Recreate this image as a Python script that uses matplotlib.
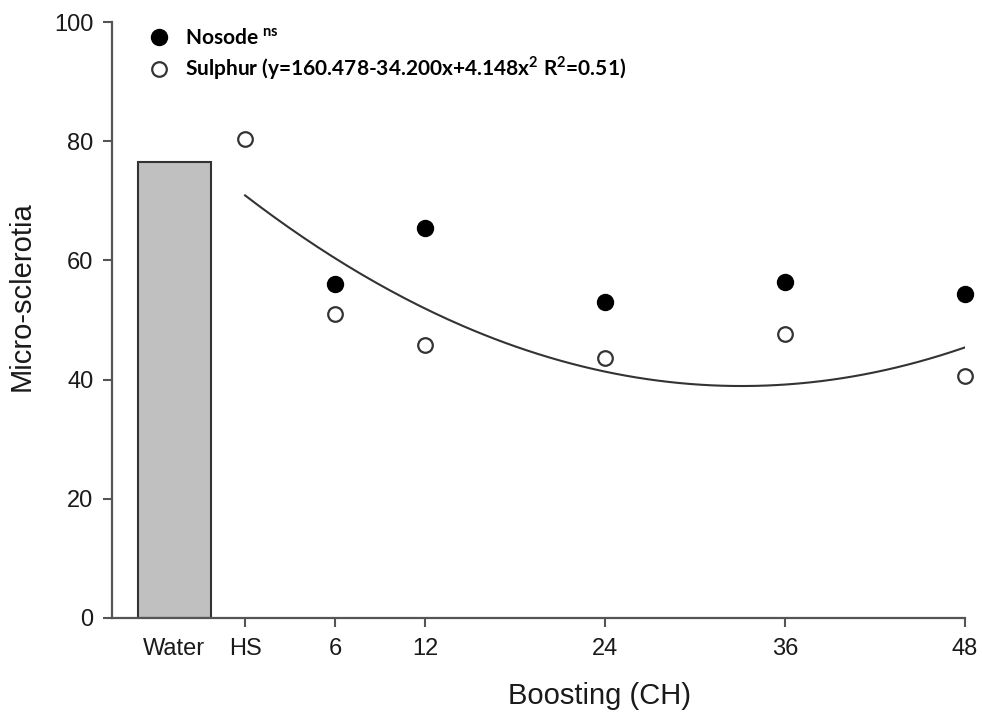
import numpy as np
import matplotlib
matplotlib.use("Agg")
import matplotlib.pyplot as plt
from matplotlib.lines import Line2D

# values
ch = [6, 12, 24, 36, 48]
nosode = [56.0, 65.5, 53.1, 56.3, 54.4]
sulphur_x = [0, 6, 12, 24, 36, 48]          # HS plotted at 0
sulphur = [80.4, 51.0, 45.8, 43.7, 47.6, 40.6]
water_x = -4.72
water = 76.5
tick_pos = [water_x, 0, 6, 12, 24, 36, 48]
tick_labels = ["Water", "HS", "6", "12", "24", "36", "48"]

plt.rcParams["font.family"] = ["Liberation Sans", "DejaVu Sans"]
plt.rcParams["mathtext.fontset"] = "custom"
plt.rcParams["mathtext.rm"] = "Lato:bold"
plt.rcParams["mathtext.bf"] = "Lato:bold"

axis_col = "#555555"
dark = "#333333"

fig = plt.figure(figsize=(9.82, 7.17), dpi=100)
ax = fig.add_axes([0.1141, 0.1381, 0.8686, 0.8312])

ax.bar([water_x], [water], width=4.87, color="#c0c0c0", edgecolor=dark, linewidth=1.5, zorder=2)

# quadratic fit to the sulphur series
coef = np.polyfit(sulphur_x, sulphur, 2)
xs = np.linspace(0, 48, 200)
ax.plot(xs, np.polyval(coef, xs), color=dark, lw=1.5, zorder=3)

ax.plot(ch, nosode, "o", ms=11.5, color="black", clip_on=False, zorder=4)
ax.plot(sulphur_x, sulphur, "o", ms=10.5, mfc="white", mec=dark, mew=1.6, clip_on=False, zorder=4)

ax.set_xlim(-8.87, 48)
ax.set_ylim(0, 100)
ax.set_yticks(range(0, 101, 20))
ax.set_xticks(tick_pos)
ax.set_xticklabels(tick_labels)
ax.xaxis.get_major_ticks()[0].tick1line.set_visible(False)

for s in ["top", "right"]:
    ax.spines[s].set_visible(False)
for s in ["left", "bottom"]:
    ax.spines[s].set_color(axis_col)
    ax.spines[s].set_linewidth(1.6)
ax.tick_params(axis="both", length=6.5, width=1.5, color=axis_col, labelsize=17, labelcolor="#1a1a1a")
ax.tick_params(axis="y", pad=7)
ax.tick_params(axis="x", pad=8)

ax.set_xlabel("Boosting (CH)", fontsize=21, color="#1a1a1a")
ax.set_ylabel("Micro-sclerotia", fontsize=21, color="#1a1a1a")
ax.xaxis.set_label_coords(0.572, -0.108)
ax.yaxis.set_label_coords(-0.090, 0.540)

handles = [
    Line2D([], [], ls="none", marker="o", ms=11.5, color="black"),
    Line2D([], [], ls="none", marker="o", ms=10.5, mfc="white", mec=dark, mew=1.6),
]
labels = [r"Nosode $^{\rm ns}$", r"Sulphur (y=160.478-34.200x+4.148x$^2$ R$^2$=0.51)"]
leg = ax.legend(handles, labels, loc="upper left", bbox_to_anchor=(149 / 982, 1 - 28 / 717),
                bbox_transform=fig.transFigure, frameon=False, borderpad=0, borderaxespad=0,
                handlelength=1.0, handletextpad=0.75, labelspacing=0.28,
                prop={"family": "Lato", "weight": "bold", "size": 15})

fig.savefig("out.png", dpi=100)
